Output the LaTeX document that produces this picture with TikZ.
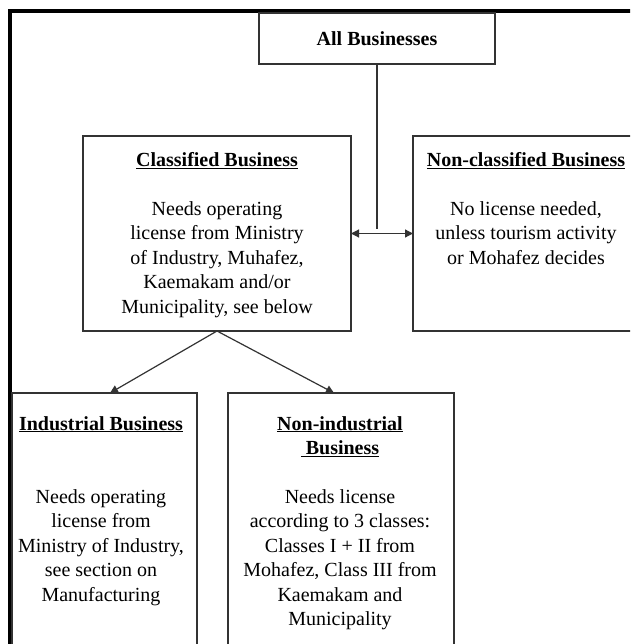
\documentclass[tikz,border=0pt]{standalone}
\usepackage{fontspec}
\setmainfont{Liberation Serif}
\usetikzlibrary{arrows.meta}
\begin{document}
\begin{tikzpicture}[x=1pt,y=-1pt,
  box/.style={draw=black!80, line width=1.2pt, inner sep=0pt, outer sep=0pt},
  txt/.style={align=center, inner sep=0pt, font=\fontsize{20}{24.5}\selectfont, anchor=base},
  conn/.style={draw=black!80, line width=1.2pt},
  tip/.style={-{Triangle[length=8pt,width=8pt]}},
  tips/.style={{Triangle[length=8pt,width=8pt]}-{Triangle[length=8pt,width=8pt]}},
  frame/.style={draw=black, line width=3.5pt}
]
\useasboundingbox (0,0) rectangle (630,644);
\clip (0,0) rectangle (630,644);
\fill[white] (0,0) rectangle (630,644);
% outer frame (only top and left edges visible)
\coordinate (fbl) at (10,700);
\coordinate (ftl) at (10,11);
\coordinate (ftr) at (700,11);
\draw[frame] (fbl) -- (ftl) -- (ftr);
% boxes
\node[box, minimum width=236pt, minimum height=51pt] (all) at (377,38.5) {};
\node[box, minimum width=268pt, minimum height=195pt] (cls) at (217,233.5) {};
\node[box, minimum width=226pt, minimum height=195pt] (ncls) at (526,233.5) {};
\node[box, minimum width=185pt, minimum height=307pt] (ind) at (104.5,546.5) {};
\node[box, minimum width=226pt, minimum height=307pt] (nind) at (341,546.5) {};
% connectors
\coordinate (jn) at (377,229);
\coordinate (tipL) at (110,393);
\coordinate (tipR) at (334,393);
\draw[conn] (all.south) -- (jn);
\draw[conn, tips] (cls.east) -- (ncls.west);
\draw[conn, tip] (cls.south) -- (tipL);
\draw[conn, tip] (cls.south) -- (tipR);
% texts (anchor=base is the baseline of the last line)
\node[txt] (allt) at (377,46) {\textbf{All Businesses}};
\node[txt] (clsh) at (217,167) {\underline{\textbf{Classified Business}}};
\node[txt] (clsb) at (217,313) {Needs operating\\license from Ministry\\of Industry, Muhafez,\\Kaemakam and/or\\Municipality, see below};
\node[txt] (nclsh) at (526,167) {\underline{\textbf{Non-classified Business}}};
\node[txt] (nclsb) at (526,264) {No license needed,\\unless tourism activity\\or Mohafez decides};
\node[txt] (indh) at (101,430) {\underline{\textbf{Industrial Business}}};
\node[txt] (indb) at (101,601) {Needs operating\\license from\\Ministry of Industry,\\see section on\\Manufacturing};
\node[txt] (nindh) at (340,454.5) {\underline{\textbf{Non-industrial}}\\\underline{\textbf{\ Business}}};
\node[txt] (nindb) at (340,625.5) {Needs license\\according to 3 classes:\\Classes I + II from\\Mohafez, Class III from\\Kaemakam and\\Municipality};
\end{tikzpicture}
\end{document}
